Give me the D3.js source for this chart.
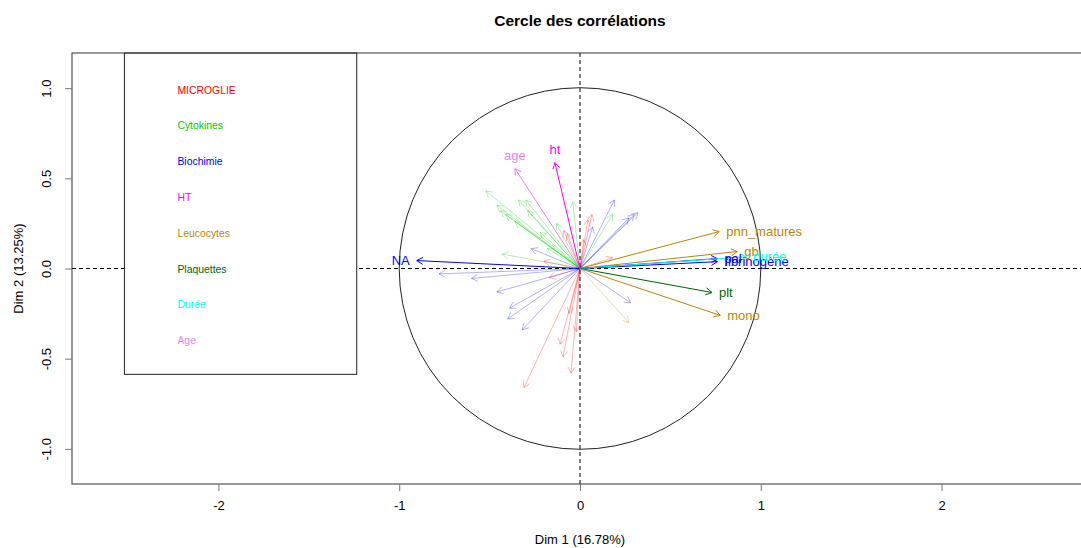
<!DOCTYPE html>
<html>
<head>
<meta charset="utf-8">
<script src="https://cdn.jsdelivr.net/npm/d3@7"></script>
<style>
  body { margin: 0; background: #fff; }
  svg { font-family: "Liberation Sans", Arial, sans-serif; display: block; }
</style>
</head>
<body>
<svg width="1081" height="548"></svg>
<script>
// groups of variables (legend order)
var groups = ["MICROGLIE", "Cytokines", "Biochimie", "HT", "Leucocytes", "Plaquettes", "Durée", "Age"];

// variables drawn with labels
var selNames = ["NA", "age", "ht", "pnn_matures", "gb", "pal", "fibrinogène", "durée", "plt", "mono"];
var selGroup = ["Biochimie", "Age", "HT", "Leucocytes", "Leucocytes", "Biochimie", "Biochimie", "Durée", "Plaquettes", "Leucocytes"];
var selDim1  = [-0.903, -0.36, -0.139, 0.77, 0.87, 0.76, 0.76, 0.92, 0.73, 0.776];
var selDim2  = [0.044, 0.554, 0.587, 0.205, 0.094, 0.055, 0.038, 0.065, -0.133, -0.26];

// other variables (drawn faded, no label)
var otherGroup = [
  "Cytokines", "Cytokines", "Cytokines", "Cytokines", "Cytokines", "Cytokines", "Cytokines",
  "Cytokines", "Cytokines", "Cytokines", "Cytokines", "Cytokines", "Cytokines", "Cytokines",
  "MICROGLIE", "MICROGLIE", "MICROGLIE", "MICROGLIE", "MICROGLIE", "MICROGLIE", "MICROGLIE",
  "MICROGLIE", "MICROGLIE", "MICROGLIE", "MICROGLIE", "MICROGLIE", "MICROGLIE", "MICROGLIE",
  "Biochimie", "Biochimie", "Biochimie", "Biochimie", "Biochimie", "Biochimie", "Biochimie",
  "Biochimie", "Biochimie", "Biochimie", "Biochimie", "Biochimie", "Biochimie",
  "Leucocytes"
];
var otherDim1 = [
  -0.52, -0.46, -0.44, -0.41, -0.34, -0.30, -0.29, -0.13, -0.04, -0.43, -0.18, 0.18, -0.22, -0.36,
  0.066, 0.044, -0.09, -0.07, 0.18, -0.20, -0.17, -0.11, -0.094, -0.05, -0.31, -0.02, 0.02, -0.06,
  0.19, 0.32, 0.30, 0.27, 0.07, -0.27, -0.60, -0.46, -0.39, -0.40, -0.32, 0.28, -0.78,
  0.27
];
var otherDim2 = [
  0.43, 0.35, 0.32, 0.30, 0.38, 0.38, 0.32, 0.25, 0.37, 0.08, 0.11, 0.30, 0.20, 0.26,
  0.30, 0.27, 0.21, 0.19, 0.06, 0.04, -0.05, -0.42, -0.49, -0.58, -0.66, -0.35, 0.16, -0.25,
  0.38, 0.31, 0.30, 0.28, 0.23, 0.11, -0.055, -0.13, -0.22, -0.28, -0.34, -0.19, -0.03,
  -0.30
];

var xTicks = [-2, -1, 0, 1, 2];
var yTicks = [-1.0, -0.5, 0.0, 0.5, 1.0];

(function() {
    var colors = {
      "MICROGLIE": "#FF0000", "Cytokines": "#00CD00", "Biochimie": "#0000FF", "HT": "#FF00FF",
      "Leucocytes": "#B8860B", "Plaquettes": "#006400", "Durée": "#00FFFF", "Age": "#EE82EE"
    };

    var svg = d3.select("svg");
    var pLeft = 72, pRight = 1088, pTop = 53, pBottom = 484;

    var x = d3.scaleLinear().domain([-2.81, 2.81]).range([pLeft, pRight]);
    var y = d3.scaleLinear().domain([-1.195, 1.195]).range([pBottom, pTop]);

    // title
    svg.append("text")
        .attr("x", (pLeft + pRight) / 2).attr("y", 26)
        .attr("text-anchor", "middle")
        .attr("font-weight", "bold").attr("font-size", "15.5px")
        .text("Cercle des corrélations");

    svg.append("defs").append("clipPath").attr("id", "clip")
      .append("rect").attr("x", pLeft).attr("y", pTop).attr("width", pRight - pLeft).attr("height", pBottom - pTop);

    var g = svg.append("g").attr("clip-path", "url(#clip)");

    // dashed axes
    g.append("line").attr("x1", pLeft).attr("x2", pRight).attr("y1", y(0)).attr("y2", y(0))
        .attr("stroke", "#000").attr("stroke-dasharray", "4,3");
    g.append("line").attr("x1", x(0)).attr("x2", x(0)).attr("y1", pTop).attr("y2", pBottom)
        .attr("stroke", "#000").attr("stroke-dasharray", "4,3");

    // circle
    g.append("circle").attr("cx", x(0)).attr("cy", y(0)).attr("r", x(1) - x(0))
        .attr("fill", "none").attr("stroke", "#222").attr("stroke-width", 1);

    function arrowPath(d) {
      var x0 = x(0), y0 = y(0), x1 = x(d.d1), y1 = y(d.d2);
      var a = Math.atan2(y1 - y0, x1 - x0), len = 7, sp = Math.PI / 6;
      return "M" + x0 + "," + y0 + "L" + x1 + "," + y1 +
        "M" + (x1 - len * Math.cos(a - sp)) + "," + (y1 - len * Math.sin(a - sp)) +
        "L" + x1 + "," + y1 +
        "L" + (x1 - len * Math.cos(a + sp)) + "," + (y1 - len * Math.sin(a + sp));
    }

    var others = otherDim1.map(function(v, i) { return {d1: v, d2: otherDim2[i], grp: otherGroup[i]}; });
    var sel = selNames.map(function(n, i) { return {name: n, d1: selDim1[i], d2: selDim2[i], grp: selGroup[i]}; });

    g.selectAll(".faint").data(others).enter().append("path")
        .attr("class", "faint")
        .attr("d", arrowPath)
        .attr("fill", "none")
        .attr("stroke", function(d) { return colors[d.grp]; })
        .attr("stroke-opacity", 0.3);

    g.selectAll(".sel").data(sel).enter().append("path")
        .attr("class", "sel")
        .attr("d", arrowPath)
        .attr("fill", "none")
        .attr("stroke", function(d) { return colors[d.grp]; });

    // labels placed like FactoMineR (pos 1..4 by dominant direction)
    var off = 7;
    g.selectAll(".lab").data(sel).enter().append("text")
        .attr("class", "lab")
        .attr("font-size", "13px")
        .attr("fill", function(d) { return colors[d.grp]; })
        .attr("x", function(d) {
          if (Math.abs(d.d1) > Math.abs(d.d2)) return x(d.d1) + (d.d1 >= 0 ? off : -off);
          return x(d.d1);
        })
        .attr("y", function(d) {
          if (Math.abs(d.d1) > Math.abs(d.d2)) return y(d.d2);
          return y(d.d2) + (d.d2 >= 0 ? -off - 6 : off + 6);
        })
        .attr("dy", "0.35em")
        .attr("text-anchor", function(d) {
          if (Math.abs(d.d1) > Math.abs(d.d2)) return d.d1 >= 0 ? "start" : "end";
          return "middle";
        })
        .text(function(d) { return d.name; });

    // legend box
    var lg = svg.append("g");
    var lx0 = x(-2.52), lx1 = x(-1.235), ly0 = y(1.195), ly1 = y(-0.587);
    lg.append("rect").attr("x", lx0).attr("y", ly0).attr("width", lx1 - lx0).attr("height", ly1 - ly0)
        .attr("fill", "#fff").attr("stroke", "#222");
    lg.selectAll("text").data(groups).enter().append("text")
        .attr("x", lx0 + 53)
        .attr("y", function(d, i) { return ly0 + 37 + i * 35.8; })
        .attr("dy", "0.35em")
        .attr("font-size", "10.4px")
        .attr("fill", function(d) { return colors[d]; })
        .text(function(d) { return d; });

    // frame
    svg.append("rect").attr("x", pLeft).attr("y", pTop).attr("width", pRight - pLeft).attr("height", pBottom - pTop)
        .attr("fill", "none").attr("stroke", "#333");

    // axes
    var xAxis = svg.append("g").attr("transform", "translate(0," + pBottom + ")")
        .call(d3.axisBottom(x).tickValues(xTicks).tickSize(7).tickPadding(10)
          .tickFormat(function(d) { return String(d); }));
    xAxis.select(".domain").remove();
    xAxis.selectAll("line").attr("stroke", "#777");
    xAxis.selectAll("text").attr("font-size", "13px").attr("font-family", "Liberation Sans, Arial, sans-serif").attr("fill", "#000");

    var yAxis = svg.append("g").attr("transform", "translate(" + pLeft + ",0)")
        .call(d3.axisLeft(y).tickValues(yTicks).tickSize(7)
          .tickFormat(function(d) { return d.toFixed(1); }));
    yAxis.select(".domain").remove();
    yAxis.selectAll("line").attr("stroke", "#777");
    yAxis.selectAll("text")
        .attr("font-size", "13px").attr("font-family", "Liberation Sans, Arial, sans-serif").attr("fill", "#000")
        .attr("x", 0).attr("dy", 0)
        .attr("text-anchor", "middle")
        .attr("transform", "translate(-21,0) rotate(-90)");

    // axis titles
    svg.append("text").attr("x", (pLeft + pRight) / 2).attr("y", 544)
        .attr("text-anchor", "middle").attr("font-size", "13px")
        .text("Dim 1 (16.78%)");
    svg.append("text")
        .attr("transform", "translate(23," + y(0) + ") rotate(-90)")
        .attr("text-anchor", "middle").attr("font-size", "13px")
        .text("Dim 2 (13.25%)");
})();
</script>
</body>
</html>
